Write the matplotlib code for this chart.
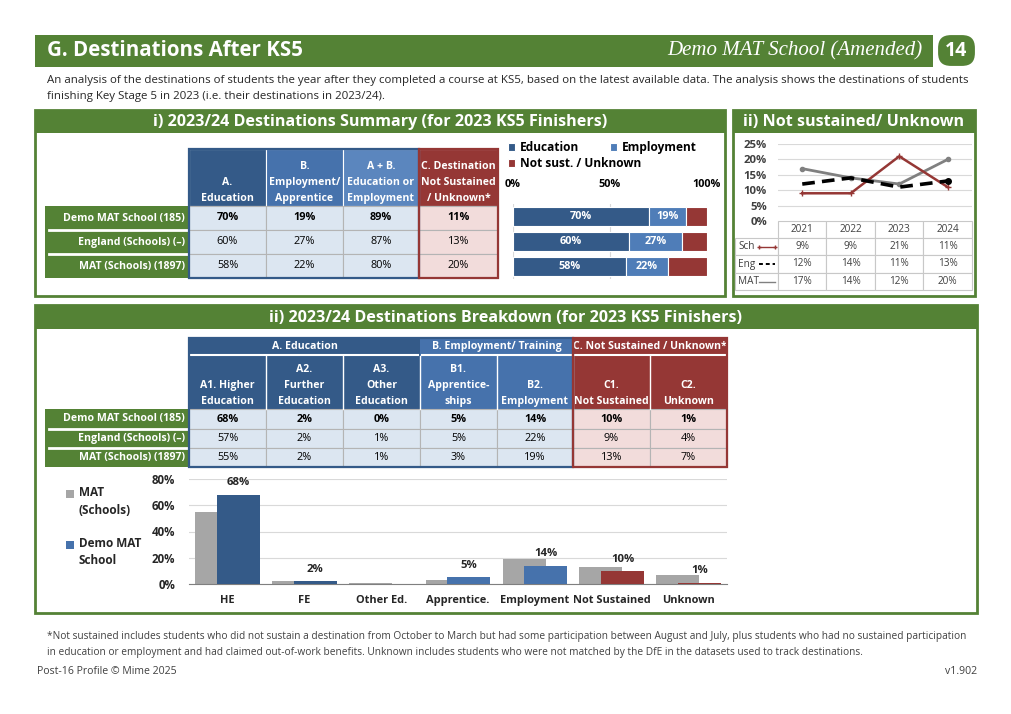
import numpy as np
import matplotlib.pyplot as plt
from matplotlib.patches import Rectangle, FancyBboxPatch
from matplotlib.lines import Line2D

plt.rcParams['font.family'] = ['Open Sans', 'DejaVu Sans']

# --- data ---
groups = ["Demo MAT School (185)", "England (Schools) (\u2013)", "MAT (Schools) (1897)"]
summary_heads = ["A.\nEducation", "B.\nEmployment/\nApprentice", "A + B.\nEducation or\nEmployment",
                 "C. Destination\nNot Sustained\n/ Unknown*"]
edu = [70, 60, 58]
emp = [19, 27, 22]
edu_emp = [89, 87, 80]
not_sust = [11, 13, 20]

ns_years = ["2021", "2022", "2023", "2024"]
ns_sch = [9, 9, 21, 11]
ns_eng = [12, 14, 11, 13]
ns_mat = [17, 14, 12, 20]

bd_groups = ["A. Education", "B. Employment/ Training", "C. Not Sustained / Unknown*"]
bd_heads = ["A1. Higher\nEducation", "A2.\nFurther\nEducation", "A3.\nOther\nEducation",
            "B1.\nApprentice-\nships", "B2.\nEmployment", "C1.\nNot Sustained", "C2.\nUnknown"]
bd_short = ["HE", "FE", "Other Ed.", "Apprentice.", "Employment", "Not Sustained", "Unknown"]
bd_school = [68, 2, 0, 5, 14, 10, 1]
bd_england = [57, 2, 1, 5, 22, 9, 4]
bd_mat = [55, 2, 1, 3, 19, 13, 7]

# --- colours ---
GREEN = '#548235'
DBLUE = '#345A88'
MBLUE = '#4672AC'
LBLUE = '#5B86BE'
RED = '#953735'
CELL_B = '#DCE6F1'
CELL_R = '#F2DCDB'
GREY = '#A6A6A6'
TXT = '#262626'
GRID = '#D9D9D9'

W, H = 1012, 714
fig = plt.figure(figsize=(W / 100, H / 100), dpi=100)
bg = fig.add_axes([0, 0, 1, 1])
bg.set_xlim(0, W)
bg.set_ylim(H, 0)
bg.axis('off')


def box(x0, y0, x1, y1, fc, ec='none', lw=0, z=1):
    bg.add_patch(Rectangle((x0, y0), x1 - x0, y1 - y0, facecolor=fc,
                           edgecolor=ec, linewidth=lw, zorder=z))


def px_axes(x0, y0, x1, y1):
    return fig.add_axes([x0 / W, 1 - y1 / H, (x1 - x0) / W, (y1 - y0) / H])


def panel(x0, y0, x1, y1, title, hh=23):
    box(x0, y0, x1, y1, 'none', GREEN, 2, z=5)
    box(x0, y0, x1, y0 + hh, GREEN, z=5)
    bg.text((x0 + x1) / 2, y0 + hh / 2 + 1, title, color='white', fontsize=11.6,
            weight='bold', ha='center', va='center', zorder=6)


# --- page header ---
box(35, 35, 933, 67, GREEN)
bg.text(47, 51, "G. Destinations After KS5", color='white', fontsize=14.8,
        weight='bold', va='center')
bg.text(922, 51, "Demo MAT School (Amended)", color='white', fontsize=15,
        family=['Liberation Serif', 'DejaVu Serif'], style='italic', ha='right', va='center')
bg.add_patch(FancyBboxPatch((936, 33), 41, 35, boxstyle='round,pad=0,rounding_size=15',
                            facecolor=GREEN, edgecolor='white', linewidth=3, zorder=3))
bg.text(956.5, 51, "14", color='white', fontsize=14, weight='bold', ha='center',
        va='center', zorder=4)

bg.text(47, 80, "An analysis of the destinations of students the year after they completed a course at KS5, "
        "based on the latest available data. The analysis shows the destinations of students",
        fontsize=8.25, color=TXT, va='center')
bg.text(47, 97, "finishing Key Stage 5 in 2023 (i.e. their destinations in 2023/24).",
        fontsize=8.25, color=TXT, va='center')

panel(35, 110, 725, 296, "i) 2023/24 Destinations Summary (for 2023 KS5 Finishers)")
panel(733, 110, 975, 296, "ii) Not sustained/ Unknown")
panel(35, 305, 977, 613, "ii) 2023/24 Destinations Breakdown (for 2023 KS5 Finishers)", hh=24)


def row_labels(y_edges):
    for i, name in enumerate(groups):
        box(45, y_edges[i], 188, y_edges[i + 1], GREEN)
        bg.text(185, (y_edges[i] + y_edges[i + 1]) / 2, name, color='white', fontsize=7.6,
                weight='bold', ha='right', va='center')
    for y in y_edges[1:-1]:
        bg.plot([49, 188], [y, y], color='white', lw=2, zorder=3)


def data_cells(x_edges, y_edges, cols, cell_colours):
    for j, vals in enumerate(cols):
        for i, v in enumerate(vals):
            box(x_edges[j], y_edges[i], x_edges[j + 1], y_edges[i + 1], cell_colours[j],
                ec='#B4B4B4', lw=0.8, z=2)
            bg.text((x_edges[j] + x_edges[j + 1]) / 2, (y_edges[i] + y_edges[i + 1]) / 2,
                    f"{v}%", fontsize=7.8, color='black', ha='center', va='center',
                    weight='bold' if i == 0 else 'normal', zorder=3)


# --- summary table ---
sx = [189, 266, 343, 419, 498]
sy = [206, 230, 254, 278]
s_head_col = [DBLUE, MBLUE, LBLUE, RED]
for j, head in enumerate(summary_heads):
    box(sx[j], 149, sx[j + 1], 206, s_head_col[j], ec='white', lw=0.8, z=2)
    bg.text((sx[j] + sx[j + 1]) / 2, 204, head, color='white', fontsize=7.6, weight='bold',
            ha='center', va='bottom', multialignment='center', linespacing=1.62, zorder=3)
row_labels(sy)
data_cells(sx, sy, [edu, emp, edu_emp, not_sust], [CELL_B] * 3 + [CELL_R])
box(sx[0], 149, sx[3], sy[-1], 'none', DBLUE, 1.6, z=4)
box(sx[3], 149, sx[4], sy[-1], 'none', RED, 1.6, z=4)

# --- summary stacked bars ---
ax1 = px_axes(513, 204, 707, 279)
yy = np.arange(len(groups))
b_edu = ax1.barh(yy, edu, height=0.76, color=DBLUE, edgecolor='white', lw=0.8, label='Education')
b_emp = ax1.barh(yy, emp, left=edu, height=0.76, color='#4F7DB8', edgecolor='white', lw=0.8,
                 label='Employment')
left3 = np.array(edu) + np.array(emp)
b_ns = ax1.barh(yy, not_sust, left=left3, height=0.76, color=RED, edgecolor='white', lw=0.8,
                label='Not sust. / Unknown')
for i in range(len(groups)):
    ax1.text(edu[i] / 2, i, f"{edu[i]}%", color='white', weight='bold', fontsize=7.8,
             ha='center', va='center')
    ax1.text(edu[i] + emp[i] / 2, i, f"{emp[i]}%", color='white', weight='bold', fontsize=7.8,
             ha='center', va='center')
ax1.set_xlim(0, 100)
ax1.set_ylim(2.5, -0.5)
ax1.set_xticks([0, 50, 100], ["0%", "50%", "100%"])
ax1.tick_params(top=True, labeltop=True, bottom=False, labelbottom=False, left=False,
                labelleft=False, length=0, pad=10, labelsize=7.8)
for t in ax1.get_xticklabels():
    t.set_fontweight('bold')
ax1.grid(axis='x', color=GRID, lw=0.8)
ax1.set_axisbelow(True)
for s in ax1.spines.values():
    s.set_visible(False)
leg_kw = dict(loc='upper left', frameon=False, handlelength=0.6, handleheight=0.6,
              handletextpad=0.4, borderaxespad=0, borderpad=0,
              prop={'weight': 'bold', 'size': 8.6})
fig.legend(handles=[b_edu, b_emp], ncol=2, columnspacing=2.6,
           bbox_to_anchor=(508 / W, 1 - 141 / H), **leg_kw)
fig.legend(handles=[b_ns], bbox_to_anchor=(508 / W, 1 - 157 / H), **leg_kw)

# --- not sustained trend ---
ax2 = px_axes(778, 144, 972, 221)
xx = np.arange(len(ns_years))
ax2.plot(xx, ns_mat, color='#808080', lw=2, marker='o', ms=3)
ax2.plot(xx, ns_sch, color=RED, lw=1.8, marker='+', ms=4)
ax2.plot(xx, ns_eng, color='black', lw=2.6, ls=(0, (3.5, 2)), marker='o', ms=4, markevery=[3])
ax2.set_xlim(-0.5, 3.5)
ax2.set_ylim(0, 25)
ax2.set_yticks(range(0, 26, 5), [f"{v}%" for v in range(0, 26, 5)])
ax2.set_xticks([])
ax2.tick_params(axis='y', length=0, pad=8, labelsize=8.2, labelcolor='#404040')
for t in ax2.get_yticklabels():
    t.set_fontweight('bold')
ax2.grid(axis='y', color=GRID, lw=0.8)
ax2.set_axisbelow(True)
for s in ax2.spines.values():
    s.set_visible(False)

cw = (972 - 778) / len(ns_years)
ty = [221, 238, 255, 273, 290]
for j, yr in enumerate(ns_years):
    cx0 = 778 + j * cw
    box(cx0, ty[0], cx0 + cw, ty[1], 'white', ec='#C8C8C8', lw=0.8)
    bg.text(cx0 + cw / 2, (ty[0] + ty[1]) / 2, yr, fontsize=7.2, color='#404040',
            ha='center', va='center')
ns_rows = [("Sch", ns_sch, dict(color=RED, lw=1, marker='+', ms=3)),
           ("Eng", ns_eng, dict(color='black', lw=1.4, ls=(0, (2, 1.5)))),
           ("MAT", ns_mat, dict(color='#808080', lw=1))]
for i, (lab, vals, style) in enumerate(ns_rows):
    y0, y1 = ty[i + 1], ty[i + 2]
    box(735, y0, 778, y1, 'white', ec='#C8C8C8', lw=0.8)
    bg.text(738, (y0 + y1) / 2, lab, fontsize=7.2, color='#404040', va='center')
    bg.add_line(Line2D([759, 775], [(y0 + y1) / 2] * 2, zorder=4, **style))
    for j, v in enumerate(vals):
        cx0 = 778 + j * cw
        box(cx0, y0, cx0 + cw, y1, 'white', ec='#C8C8C8', lw=0.8)
        bg.text(cx0 + cw / 2, (y0 + y1) / 2, f"{v}%", fontsize=7.2, color='#404040',
                ha='center', va='center')

# --- breakdown table ---
bx = [189, 266, 343, 420, 497, 573, 650, 727]
by = [409, 429, 448, 467]
head_col = [DBLUE] * 3 + [MBLUE] * 2 + [RED] * 2
spans = [(0, 3), (3, 5), (5, 7)]
for (a, b), name in zip(spans, bd_groups):
    box(bx[a], 338, bx[b], 409, head_col[a], z=2)
    bg.text((bx[a] + bx[b]) / 2, 346.5, name, color='white', fontsize=7.6, weight='bold',
            ha='center', va='center', zorder=3)
    bg.plot([bx[a] + 2, bx[b] - 2], [355, 355], color='white', lw=1.5, zorder=3)
for j, head in enumerate(bd_heads):
    if j > 0:
        bg.plot([bx[j], bx[j]], [356, 409], color='white', lw=1, zorder=3)
    bg.text((bx[j] + bx[j + 1]) / 2, 407, head, color='white', fontsize=7.6, weight='bold',
            ha='center', va='bottom', multialignment='center', linespacing=1.62, zorder=3)
row_labels(by)
bd_cols = [list(c) for c in zip(bd_school, bd_england, bd_mat)]
data_cells(bx, by, bd_cols, [CELL_B] * 5 + [CELL_R] * 2)
box(bx[0], 338, bx[5], by[-1], 'none', DBLUE, 1.6, z=4)
box(bx[5], 338, bx[7], by[-1], 'none', RED, 1.6, z=4)

# --- breakdown bars ---
ax3 = px_axes(189, 479, 727, 584)
xb = np.arange(len(bd_short))
bar_col = [DBLUE] * 3 + ['#4672AC'] * 2 + [RED] * 2
ax3.bar(xb - 0.14, bd_mat, width=0.56, color=GREY, zorder=2)
ax3.bar(xb + 0.14, bd_school, width=0.56, color=bar_col, zorder=3)
for x, v in zip(xb, bd_school):
    if v > 0:
        ax3.annotate(f"{v}%", (x + 0.14, v), xytext=(0, 8.5), textcoords='offset points',
                     ha='center', va='center', fontsize=8.2, weight='bold', color=TXT)
ax3.set_xlim(-0.5, len(bd_short) - 0.5)
ax3.set_ylim(0, 80)
ax3.set_yticks(range(0, 81, 20), [f"{v}%" for v in range(0, 81, 20)])
ax3.set_xticks(xb, bd_short)
ax3.tick_params(length=0, labelsize=7.9, labelcolor=TXT)
ax3.tick_params(axis='y', pad=10, labelsize=8.3)
ax3.tick_params(axis='x', pad=8)
for t in ax3.get_xticklabels() + ax3.get_yticklabels():
    t.set_fontweight('bold')
ax3.grid(axis='y', color=GRID, lw=0.8)
ax3.set_axisbelow(True)
for s in ['top', 'right', 'left']:
    ax3.spines[s].set_visible(False)
ax3.spines['bottom'].set_color('#7F7F7F')

box(66, 490, 74, 498, GREY)
bg.text(79, 486, "MAT\n(Schools)", fontsize=8.5, weight='bold', color=TXT, va='top', linespacing=1.55)
box(66, 541, 74, 549, '#4672AC')
bg.text(79, 537, "Demo MAT\nSchool", fontsize=8.5, weight='bold', color=TXT, va='top', linespacing=1.45)

# --- footer ---
bg.text(47, 636, "*Not sustained includes students who did not sustain a destination from October to March "
        "but had some participation between August and July, plus students who had no sustained participation",
        fontsize=7.3, color='#404040', va='center')
bg.text(47, 653, "in education or employment and had claimed out-of-work benefits. Unknown includes students "
        "who were not matched by the DfE in the datasets used to track destinations.",
        fontsize=7.3, color='#404040', va='center')
bg.text(37, 671, "Post-16 Profile \u00a9 Mime 2025", fontsize=7.6, color='#404040', va='center')
bg.text(977, 671, "v1.902", fontsize=7.6, color='#404040', va='center', ha='right')

fig.savefig('out.png', dpi=100)
